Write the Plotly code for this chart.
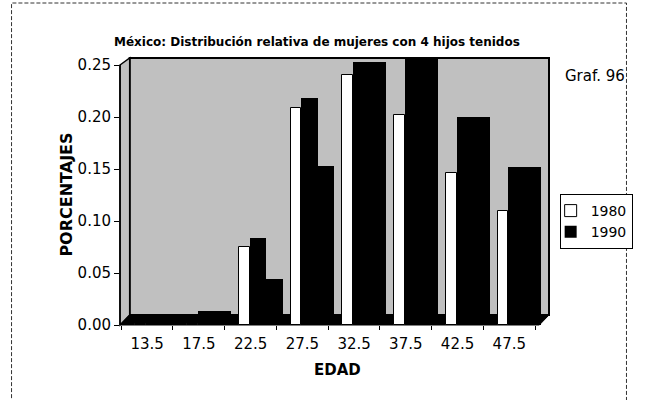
import plotly.graph_objects as go

# Age groups (midpoints) and the relative share of women with 4 children
edad = ["13.5", "17.5", "22.5", "27.5", "32.5", "37.5", "42.5", "47.5"]
p1980 = [0.001, 0.001, 0.075, 0.209, 0.240, 0.202, 0.146, 0.110]
p1990 = [0.002, 0.004, 0.035, 0.144, 0.244, 0.252, 0.191, 0.143]
y_ticks = [0.00, 0.05, 0.10, 0.15, 0.20, 0.25]

W, H = 645, 400
L, R, T, B = 120, 563, 58, 325          # plot area in page pixels
STEP = 53.43                            # pixels per age group
C0 = 148                                # pixel centre of the first group
RISE = 0.009                            # height of the 3-D top face (data units)


def px(x):
    return (x - L) / (R - L)


def py(y):
    return (B - y) / (B - T)


def w(p):
    return p / STEP


idx = list(range(len(edad)))

fig = go.Figure()

# 1990 columns (black block, front + side face)
fig.add_trace(go.Bar(
    x=[i + w(16) for i in idx], y=[v + RISE for v in p1990], width=w(34),
    name="1990", marker=dict(color="black", line=dict(width=0)),
    legendrank=2, opacity=1,
))
# shaded side / top face of the 1980 columns
fig.add_trace(go.Bar(
    x=[i + w(7.5) for i in idx], y=[v + RISE for v in p1980], width=w(17),
    marker=dict(color="black", line=dict(width=0)), showlegend=False, opacity=1,
))
# 1980 columns (white front face)
fig.add_trace(go.Bar(
    x=[i - w(6.5) for i in idx], y=p1980, width=w(11),
    name="1980", marker=dict(color="white", line=dict(color="black", width=1)),
    legendrank=1, opacity=1,
))

wall = "#c0c0c0"
shapes = [
    # back wall
    dict(type="rect", xref="paper", yref="paper", layer="below",
         x0=px(130), x1=px(R), y0=py(315), y1=py(T),
         fillcolor=wall, line=dict(color="black", width=2)),
    # left wall
    dict(type="path", xref="paper", yref="paper", layer="below",
         path=f"M{px(120)},{py(65)} L{px(130)},{py(T)} L{px(130)},{py(315)} L{px(120)},{py(B)} Z",
         fillcolor=wall, line=dict(color="black", width=1.5)),
    # floor
    dict(type="path", xref="paper", yref="paper", layer="below",
         path=f"M{px(120)},{py(B)} L{px(553)},{py(B)} L{px(R)},{py(315)} L{px(130)},{py(315)} Z",
         fillcolor="black", line=dict(color="black", width=1)),
    # value axis line
    dict(type="line", xref="paper", yref="paper",
         x0=px(120), x1=px(120), y0=py(65), y1=py(B),
         line=dict(color="black", width=1.5)),
    # page frame
    dict(type="rect", xref="paper", yref="paper",
         x0=px(8), x1=px(643), y0=py(410), y1=py(3),
         line=dict(color="#333333", width=1, dash="4px,2px")),
]

annotations = [
    dict(text="<b>México: Distribución relativa de mujeres con 4 hijos tenidos</b>",
         xref="paper", yref="paper", x=px(323), y=py(33),
         showarrow=False, font=dict(family="DejaVu Sans", size=12, color="black")),
    dict(text="Graf. 96", xref="paper", yref="paper", x=px(577), y=py(65),
         xanchor="left", showarrow=False,
         font=dict(family="DejaVu Sans", size=15, color="black")),
    dict(text="<b>PORCENTAJES</b>", xref="paper", yref="paper", x=px(53), y=py(195),
         textangle=-90, showarrow=False,
         font=dict(family="DejaVu Sans", size=16, color="black")),
    dict(text="<b>EDAD</b>", xref="paper", yref="paper", x=px(345), y=py(381),
         showarrow=False, font=dict(family="DejaVu Sans", size=15, color="black")),
]

fig.update_layout(
    width=W, height=H,
    margin=dict(l=L, r=W - R, t=T, b=H - B, pad=0),
    paper_bgcolor="white", plot_bgcolor="white",
    barmode="overlay", bargap=0,
    shapes=shapes, annotations=annotations,
    showlegend=True,
    legend=dict(x=px(574), y=py(194), xanchor="left", yanchor="top",
                bgcolor="white", bordercolor="black", borderwidth=1,
                indentation=-10, itemwidth=30,
                font=dict(family="DejaVu Sans", size=14, color="black")),
    xaxis=dict(range=[(L - C0) / STEP, (R - C0) / STEP],
               tickvals=idx, ticktext=edad, ticks="", showgrid=False,
               zeroline=False, showline=False, fixedrange=True,
               ticklabelstandoff=8,
               tickfont=dict(family="DejaVu Sans", size=15, color="black"),
               minor=dict(tickvals=[i + 0.5 for i in [-1] + idx], ticks="outside",
                          ticklen=4, tickcolor="black", showgrid=False)),
    yaxis=dict(range=[0, 0.25 + 7 / 1040], tickvals=y_ticks, tickformat=".2f",
               ticks="outside", ticklen=5, tickcolor="black", showgrid=False,
               zeroline=False, showline=False, fixedrange=True,
               tickfont=dict(family="DejaVu Sans", size=15, color="black")),
)

fig.write_html("out.html")
